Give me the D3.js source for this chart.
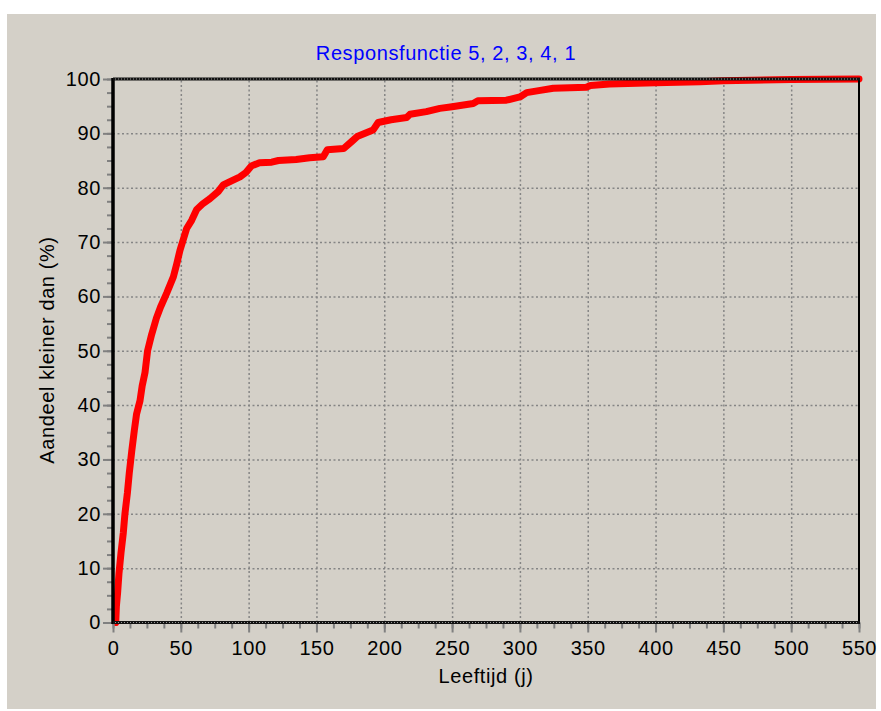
<!DOCTYPE html>
<html>
<head>
<meta charset="utf-8">
<script src="https://cdn.jsdelivr.net/npm/d3@7/dist/d3.min.js"></script>
<style>
  html, body { margin: 0; padding: 0; background: #ffffff; }
  svg { display: block; }
  text { font-family: "Liberation Sans", Arial, sans-serif; }
</style>
</head>
<body>
<svg id="chart" width="881" height="711"></svg>
<script>
// Cumulative share (%) of ages below a given age (days)
const ages = [2, 2.5, 3.4, 4.4, 5.9, 7.6, 8.8, 10.6, 12, 13.8, 15.7, 17.4, 19.9, 21.5, 23.6,
  25.5, 28.5, 32, 35, 39.6, 44.5, 47, 49.4, 54.3, 58, 61.7, 66, 71.5, 77.6, 81.3, 87,
  93.6, 98, 102, 108, 117, 122, 135, 145, 155, 158, 170, 176, 180, 191.7, 195.5, 205,
  216.5, 219, 231, 241, 250, 265.6, 269, 290, 300, 305, 315, 324.6, 349, 352, 366, 400,
  433, 450, 500, 550];
const shares = [0, 3, 5.5, 9, 12.8, 16.5, 20, 23.8, 27.5, 31.5, 35.3, 38.4, 40.8, 43.5, 46,
  50, 53, 56, 58, 60.6, 63.6, 66, 68.5, 72.5, 74, 76, 77, 78, 79.3, 80.5, 81.2,
  82, 82.8, 84, 84.6, 84.7, 85, 85.2, 85.5, 85.7, 87, 87.2, 88.5, 89.4, 90.6, 92, 92.5,
  92.9, 93.5, 94, 94.6, 94.9, 95.5, 96, 96.1, 96.7, 97.5, 97.9, 98.3, 98.5, 98.8, 99.1, 99.3,
  99.5, 99.7, 99.9, 100];

const xTicks = [0, 50, 100, 150, 200, 250, 300, 350, 400, 450, 500, 550];
const yTicks = [0, 10, 20, 30, 40, 50, 60, 70, 80, 90, 100];
const xMinorTicks = d3.range(0, 550.01, 12.5);
const yMinorTicks = d3.range(0, 100.01, 2.5);

const titleText = "Responsfunctie 5, 2, 3, 4, 1";
const xLabel = "Leeftijd (j)";
const yLabel = "Aandeel kleiner dan (%)";

const svg = d3.select("#chart");
const plotLeft = 113, plotRight = 859, plotTop = 79, plotBottom = 622.5;
const W = plotRight - plotLeft, H = plotBottom - plotTop;
const fontSize = "20px", spacing = "0.6px";

// Window-style grey panel
svg.append("rect").attr("x", 7).attr("y", 14).attr("width", 869).attr("height", 695)
  .attr("fill", "#d4d0c8");

const x = d3.scaleLinear().domain([0, 550]).range([plotLeft, plotRight]);
const y = d3.scaleLinear().domain([0, 100]).range([plotBottom, plotTop]);

// Dotted grid
const gridX = svg.append("g").attr("transform", `translate(0,${plotBottom})`)
  .call(d3.axisBottom(x).tickValues(xTicks.slice(1, -1)).tickSize(-H).tickFormat(""));
const gridY = svg.append("g").attr("transform", `translate(${plotLeft},0)`)
  .call(d3.axisLeft(y).tickValues(yTicks.slice(1, -1)).tickSize(-W).tickFormat(""));
[gridX, gridY].forEach(g => {
  g.select(".domain").remove();
  g.selectAll("line").attr("stroke", "#858585").attr("stroke-width", 1.5)
    .attr("stroke-dasharray", "2,2.5");
});

// Cumulative curve
const pts = ages.map((a, i) => [a, shares[i]]);
svg.append("path").datum(pts)
  .attr("fill", "none").attr("stroke", "#ff0000").attr("stroke-width", 7)
  .attr("stroke-linejoin", "round").attr("stroke-linecap", "round")
  .attr("d", d3.line().x(d => x(d[0])).y(d => y(d[1])));

// Minor ticks
const minorX = svg.append("g").attr("transform", `translate(0,${plotBottom})`)
  .call(d3.axisBottom(x).tickValues(xMinorTicks).tickSize(6).tickFormat(""));
const minorY = svg.append("g").attr("transform", `translate(${plotLeft},0)`)
  .call(d3.axisLeft(y).tickValues(yMinorTicks).tickSize(6).tickFormat(""));
// Major ticks with labels
const axX = svg.append("g").attr("transform", `translate(0,${plotBottom})`)
  .call(d3.axisBottom(x).tickValues(xTicks).tickSize(10).tickSizeOuter(0).tickPadding(8));
const axY = svg.append("g").attr("transform", `translate(${plotLeft},0)`)
  .call(d3.axisLeft(y).tickValues(yTicks).tickSize(10).tickSizeOuter(0).tickPadding(2));
[minorX, minorY, axX, axY].forEach(g => {
  g.select(".domain").remove();
  g.selectAll("line").attr("stroke", "#808080").attr("stroke-width", 2);
});
[axX, axY].forEach(g => {
  g.selectAll("text").attr("fill", "#000").style("font-size", fontSize)
    .style("letter-spacing", spacing);
});
axY.selectAll("text").attr("dy", "0.32em");

// Frame: solid left and right, dotted top and bottom
svg.append("line").attr("x1", plotLeft).attr("x2", plotLeft).attr("y1", plotTop - 1).attr("y2", plotBottom + 1.5)
  .attr("stroke", "#000").attr("stroke-width", 3.5);
svg.append("line").attr("x1", plotRight).attr("x2", plotRight).attr("y1", plotTop).attr("y2", plotBottom)
  .attr("stroke", "#000").attr("stroke-width", 2);
[plotTop, plotBottom].forEach(yy => {
  svg.append("line").attr("x1", plotLeft).attr("x2", plotRight + 1).attr("y1", yy).attr("y2", yy)
    .attr("stroke", "#111").attr("stroke-width", 3);
  svg.append("line").attr("x1", plotLeft + 2).attr("x2", plotRight).attr("y1", yy).attr("y2", yy)
    .attr("stroke", "#9a9a9a").attr("stroke-width", 1).attr("stroke-dasharray", "1,2");
});

// Title and axis titles
svg.append("text").attr("x", 446).attr("y", 60).attr("text-anchor", "middle")
  .attr("fill", "#0000ff").style("font-size", fontSize).style("letter-spacing", spacing)
  .text(titleText);
svg.append("text").attr("x", 486).attr("y", 683).attr("text-anchor", "middle")
  .attr("fill", "#000").style("font-size", fontSize).style("letter-spacing", spacing)
  .text(xLabel);
svg.append("text").attr("transform", "translate(54,350) rotate(-90)").attr("text-anchor", "middle")
  .attr("fill", "#000").style("font-size", fontSize).style("letter-spacing", spacing)
  .text(yLabel);
</script>
</body>
</html>
